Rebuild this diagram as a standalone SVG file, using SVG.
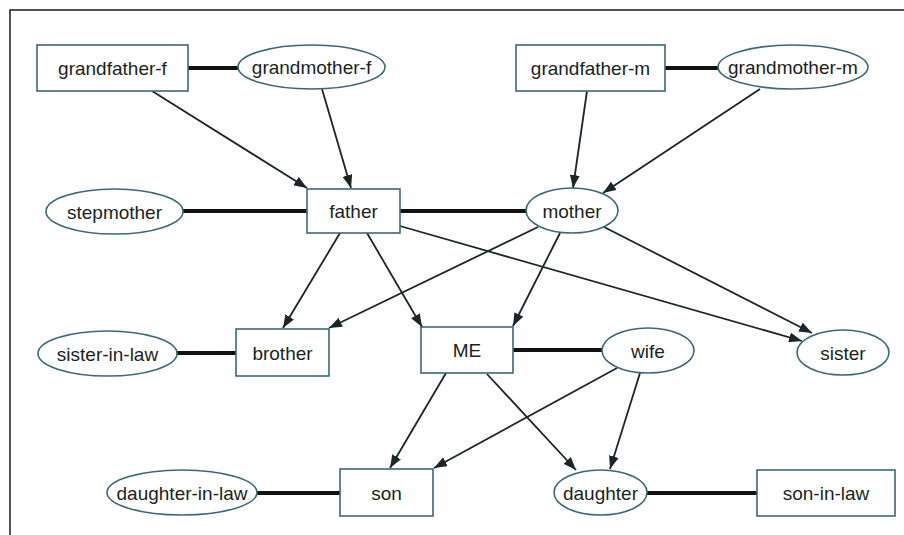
<svg xmlns="http://www.w3.org/2000/svg" width="904" height="535" viewBox="0 0 904 535">
  <defs>
    <marker id="arrow" viewBox="0 0 13 10" refX="13" refY="5" markerWidth="13" markerHeight="10" markerUnits="userSpaceOnUse" orient="auto">
      <path d="M0,0 L13,5 L0,10 Z" fill="#1a2528"/>
    </marker>
  </defs>
  <style>
    .box { fill: #ffffff; stroke: #3b6878; stroke-width: 1.6; }
    .lbl { font-family: "Liberation Sans", Arial, sans-serif; font-size: 19px; fill: #1a1f21; text-anchor: middle; }
    .edge { stroke: #1a2528; stroke-width: 1.8; fill: none; marker-end: url(#arrow); }
    .tie { stroke: #111111; stroke-width: 4; fill: none; }
  </style>

  <rect width="904" height="535" fill="#ffffff"/>
  <path d="M10,535 V10 H904" fill="none" stroke="#1a1a1a" stroke-width="1.5"/>

  <!-- connectors: partnerships (thick) and parent-to-child arrows -->
  <g id="connectors">
    <line class="tie" x1="188" y1="68" x2="238" y2="68"/>
    <line class="tie" x1="665" y1="68" x2="718" y2="68"/>
    <line class="tie" x1="183" y1="211" x2="307" y2="211"/>
    <line class="tie" x1="400" y1="211" x2="526" y2="211"/>
    <line class="tie" x1="177" y1="353" x2="236" y2="353"/>
    <line class="tie" x1="513" y1="350" x2="602" y2="350"/>
    <line class="tie" x1="257" y1="493" x2="340" y2="493"/>
    <line class="tie" x1="647" y1="493" x2="757" y2="493"/>

    <line class="edge" x1="152" y1="91" x2="307" y2="188"/>
    <line class="edge" x1="322" y1="89" x2="351" y2="188"/>
    <line class="edge" x1="587" y1="91" x2="573" y2="188"/>
    <line class="edge" x1="760" y1="89" x2="603" y2="193"/>
    <line class="edge" x1="340" y1="233" x2="283" y2="328"/>
    <line class="edge" x1="367" y1="233" x2="422" y2="327"/>
    <line class="edge" x1="400" y1="226" x2="802" y2="341"/>
    <line class="edge" x1="538" y1="227" x2="329" y2="328"/>
    <line class="edge" x1="560" y1="233" x2="513" y2="326"/>
    <line class="edge" x1="604" y1="227" x2="812" y2="333"/>
    <line class="edge" x1="446" y1="373" x2="390" y2="468"/>
    <line class="edge" x1="487" y1="374" x2="576" y2="470"/>
    <line class="edge" x1="617" y1="368" x2="434" y2="468"/>
    <line class="edge" x1="640" y1="373" x2="610" y2="469"/>
  </g>

  <g id="grandfather-f"><rect class="box" x="37" y="45" width="151" height="46"/><text class="lbl" x="112.5" y="75">grandfather-f</text></g>
  <g id="grandmother-f"><ellipse class="box" cx="311.5" cy="67" rx="73.5" ry="22"/><text class="lbl" x="311.5" y="74">grandmother-f</text></g>
  <g id="grandfather-m"><rect class="box" x="516" y="45" width="149" height="46"/><text class="lbl" x="590.5" y="75">grandfather-m</text></g>
  <g id="grandmother-m"><ellipse class="box" cx="793" cy="67" rx="75" ry="22"/><text class="lbl" x="793" y="74">grandmother-m</text></g>
  <g id="stepmother"><ellipse class="box" cx="114.5" cy="211.5" rx="68.5" ry="22.5"/><text class="lbl" x="114.5" y="218.5">stepmother</text></g>
  <g id="father"><rect class="box" x="307" y="189" width="93" height="44"/><text class="lbl" x="353.5" y="218">father</text></g>
  <g id="mother"><ellipse class="box" cx="572" cy="210.5" rx="46" ry="22.5"/><text class="lbl" x="572" y="217.5">mother</text></g>
  <g id="sister-in-law"><ellipse class="box" cx="107.5" cy="353.5" rx="69.5" ry="22.5"/><text class="lbl" x="107.5" y="360.5">sister-in-law</text></g>
  <g id="brother"><rect class="box" x="236" y="329" width="93" height="47"/><text class="lbl" x="282.5" y="359.5">brother</text></g>
  <g id="ME"><rect class="box" x="421" y="327" width="92" height="46"/><text class="lbl" x="467" y="357">ME</text></g>
  <g id="wife"><ellipse class="box" cx="648" cy="350.5" rx="46" ry="22.5"/><text class="lbl" x="648" y="357.5">wife</text></g>
  <g id="sister"><ellipse class="box" cx="843" cy="352.5" rx="46" ry="22.5"/><text class="lbl" x="843" y="359.5">sister</text></g>
  <g id="daughter-in-law"><ellipse class="box" cx="182" cy="492.5" rx="75" ry="22.5"/><text class="lbl" x="182" y="499.5">daughter-in-law</text></g>
  <g id="son"><rect class="box" x="340" y="469" width="93" height="47"/><text class="lbl" x="386.5" y="499.5">son</text></g>
  <g id="daughter"><ellipse class="box" cx="600.5" cy="492.5" rx="46.5" ry="22.5"/><text class="lbl" x="600.5" y="499.5">daughter</text></g>
  <g id="son-in-law"><rect class="box" x="757" y="470" width="138" height="46"/><text class="lbl" x="826" y="500">son-in-law</text></g>
</svg>
